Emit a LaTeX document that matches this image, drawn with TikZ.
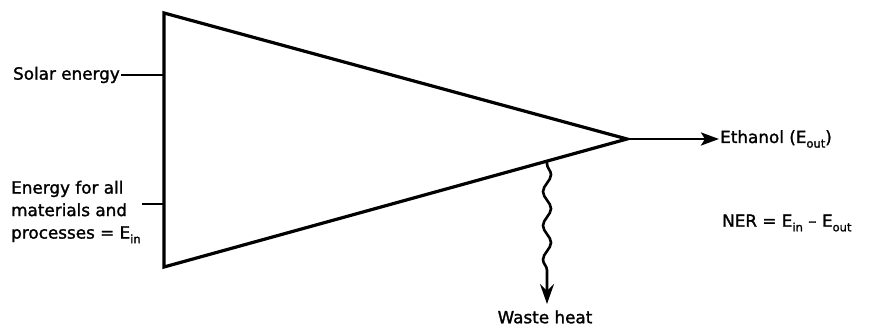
\documentclass[tikz,border=0pt]{standalone}
\usepackage{fontspec}
\setmainfont[FakeBold=1.5]{DejaVu Sans}
\usetikzlibrary{arrows.meta,decorations.pathmorphing}
\newcommand\lowsub[1]{\raisebox{-0.5ex}{\fontsize{11.5}{11.5}\selectfont #1}}
\begin{document}
\begin{tikzpicture}[x=1pt,y=1pt,
  lbl/.style={font=\fontsize{16.8}{22.5}\selectfont, inner sep=1pt},
  edge/.style={line width=3.2pt, line join=miter},
  feed/.style={line width=2.6pt},
  outarrow/.style={line width=2.8pt, -{Stealth[length=18pt,width=13pt,inset=4pt]}},
  heatarrow/.style={line width=2.6pt, -{Stealth[length=20pt,width=14pt,inset=7pt]}}]
\useasboundingbox (0,0) rectangle (875,326);
% triangle
\coordinate (A) at (164,313);
\coordinate (B) at (164,59);
\coordinate (C) at (627,187);
\draw[edge] (A) -- (C) -- (B) -- cycle;
% inputs
\node[lbl, anchor=east] (solar) at (121,251) {Solar energy};
\coordinate (solarin) at (164,251);
\draw[feed] (solar.east) -- (solarin);
\node[lbl, anchor=west, align=left] (energy) at (10,114) {Energy for all\\materials and\\processes = E\lowsub{in}};
\coordinate (energyin) at (164,122);
\coordinate (energyout) at (142,122);
\draw[feed] (energyout) -- (energyin);
% output
\node[lbl, anchor=west] (ethanol) at (719,187) {Ethanol (E\lowsub{out})};
\draw[outarrow] (C) -- (ethanol.west);
% waste heat
\node[lbl] (waste) at (545,9) {Waste heat};
\coordinate (W) at (547,164);
\coordinate (Wend) at (547,22);
\draw[heatarrow, decorate, decoration={snake, amplitude=4pt, segment length=34pt, pre length=2pt, post length=22pt}] (W) -- (Wend);
% NER
\node[lbl, anchor=west] (ner) at (721,103) {NER = E\lowsub{in} – E\lowsub{out}};
\end{tikzpicture}
\end{document}
